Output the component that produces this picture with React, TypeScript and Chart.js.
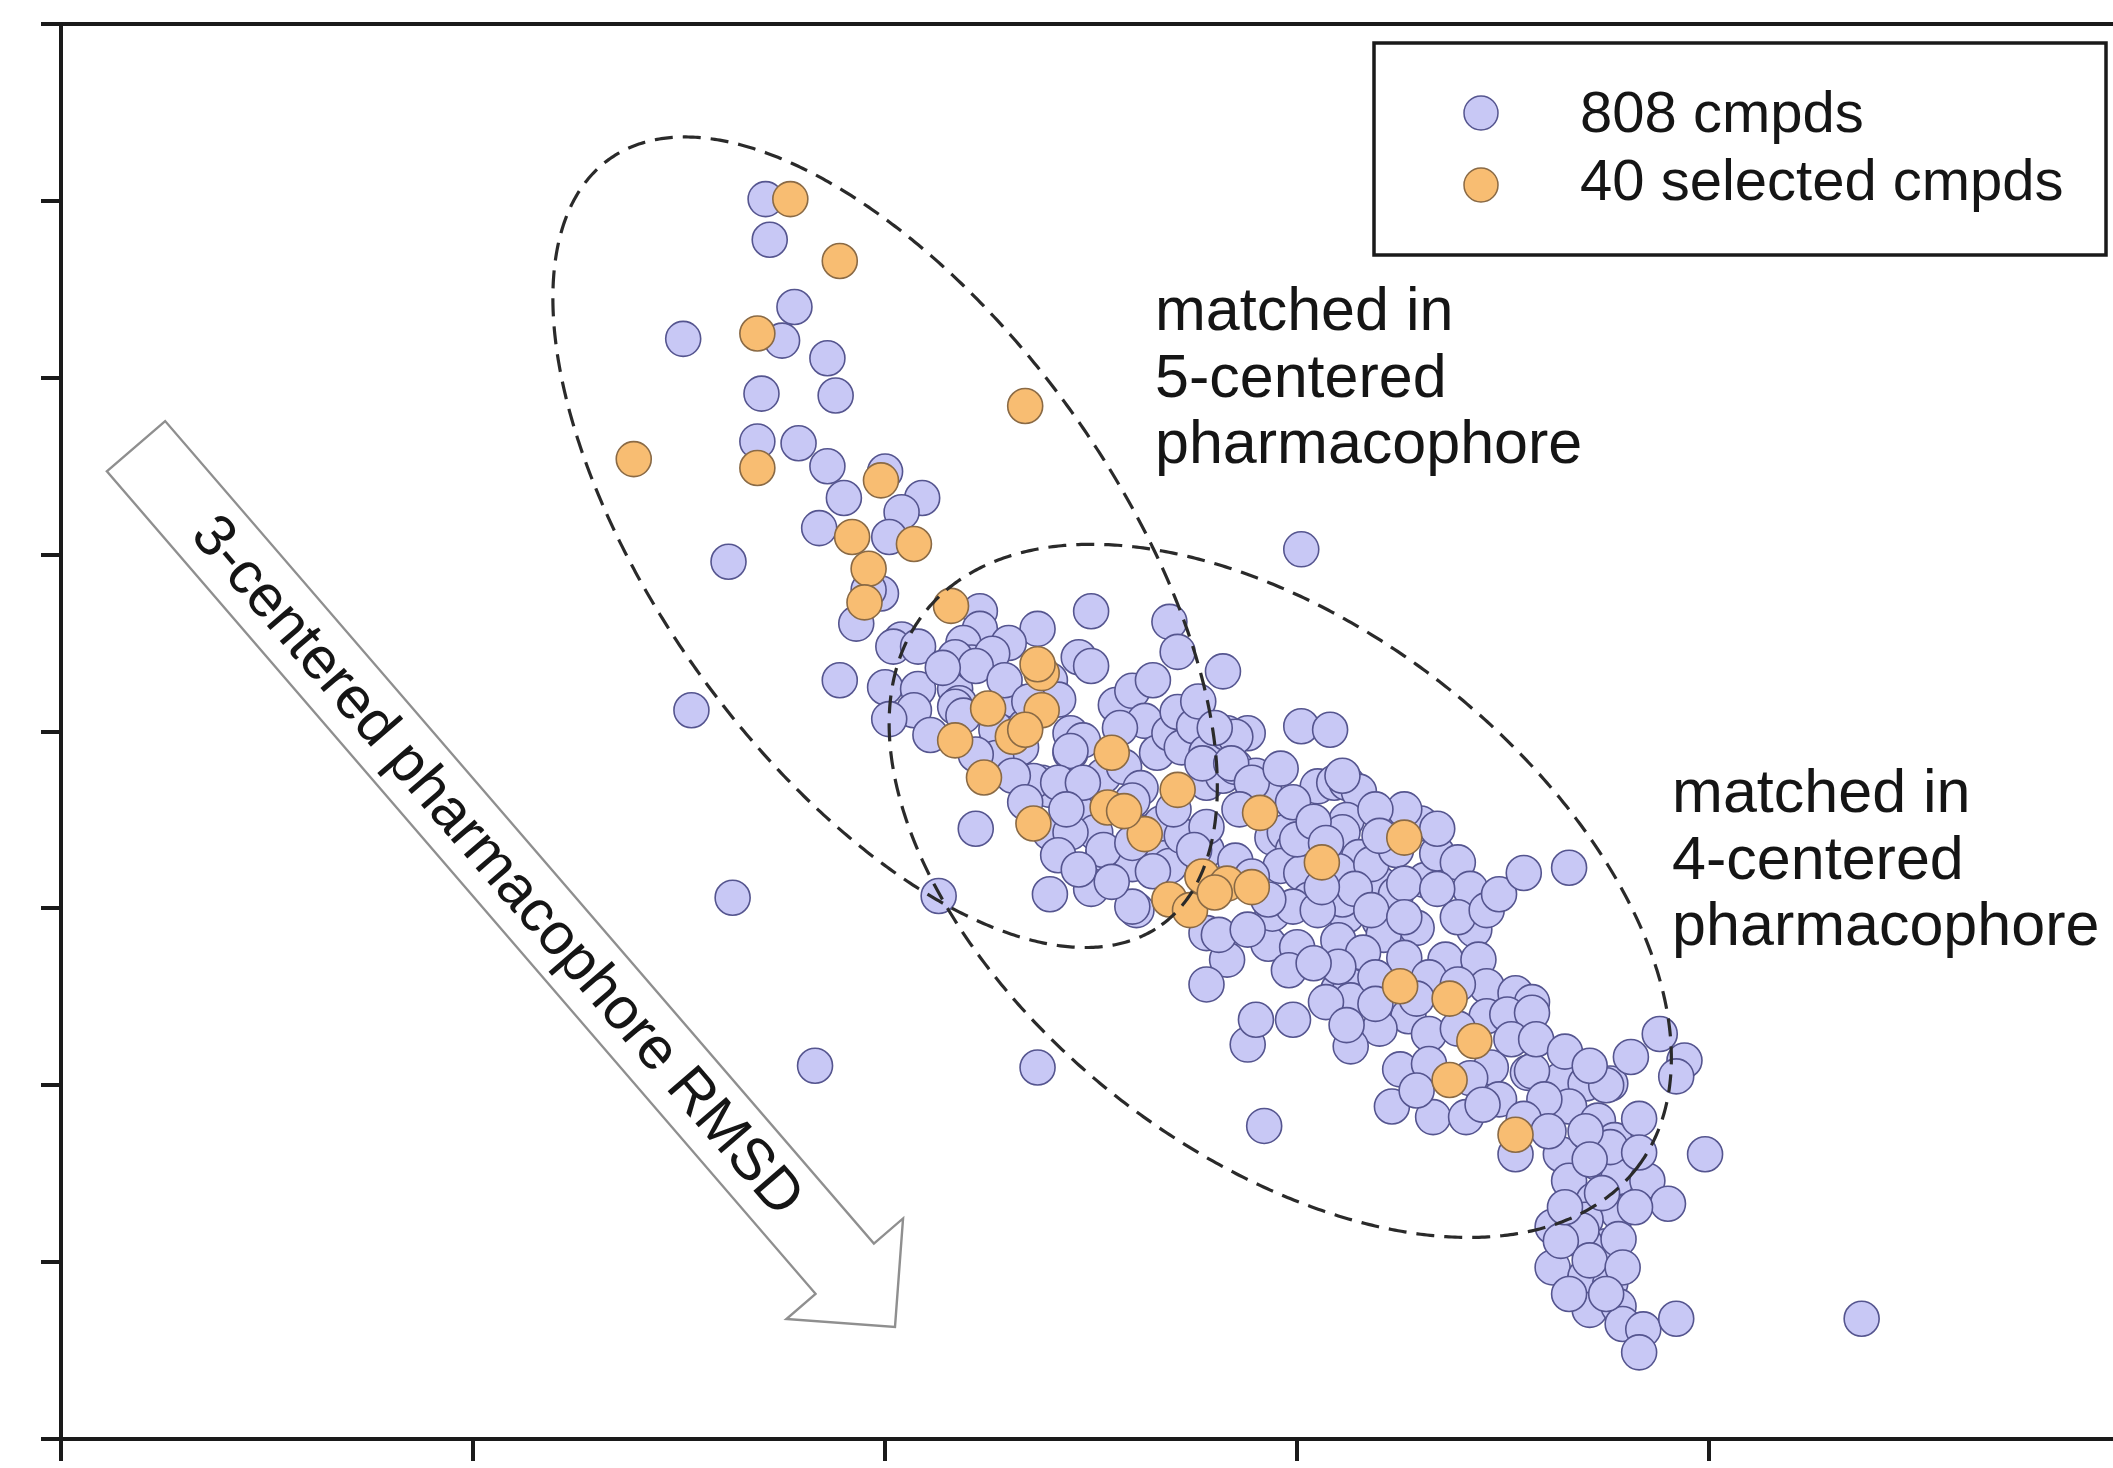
import React, { useEffect, useRef } from 'react';
import { Chart, registerables } from 'chart.js';

Chart.register(...registerables);

// ---------------- data (unlabelled axes, arbitrary units: x ticks 0..4, y ticks 0..8) ----------------
const seriesNames = ['808 cmpds', '40 selected cmpds'];

const xTickValues = [0, 1, 2, 3, 4];
const yTickValues = [0, 1, 2, 3, 4, 5, 6, 7, 8];
const xRange = [0, 4.98];
const yRange = [0, 8];

const allCmpds: number[][] = [
  // upper (5-centered) region
  [1.71, 7.01], [1.72, 6.78], [1.78, 6.40], [1.75, 6.21], [1.51, 6.22], [1.86, 6.11], [1.70, 5.91], [1.88, 5.90],
  [1.69, 5.64], [1.79, 5.63], [1.86, 5.50], [2.00, 5.47], [1.90, 5.32], [2.09, 5.32], [2.04, 5.24], [1.84, 5.15],
  [2.01, 5.10], [1.62, 4.96], [1.99, 4.78], [1.93, 4.61], [2.23, 4.68], [2.23, 4.58], [2.37, 4.58], [2.04, 4.52],
  [2.02, 4.48], [2.08, 4.48], [2.19, 4.50], [2.30, 4.50], [1.89, 4.29], [1.53, 4.12], [1.63, 3.06], [1.83, 2.11],
  [2.37, 2.10], [2.13, 3.07], [2.40, 3.08], [2.22, 3.45], [3.01, 5.03],
  [2.00, 4.25], [2.08, 4.24], [2.07, 4.12], [2.01, 4.07], [2.17, 4.24], [2.21, 4.39], [2.26, 4.44], [2.18, 4.16],
  [2.31, 4.18], [2.26, 3.90], [2.33, 3.91], [2.38, 3.71],
  // central dense region
  [1.96, 4.80], [2.50, 4.68], [2.69, 4.62], [2.71, 4.45], [2.82, 4.34], [2.47, 4.42], [2.50, 4.37], [2.17, 4.42],
  [2.22, 4.37], [2.17, 4.14], [2.19, 4.09], [2.27, 4.01], [2.34, 4.03], [2.40, 4.29], [2.42, 4.18], [2.27, 3.85],
  [2.40, 3.67], [2.40, 3.43], [2.36, 3.72], [2.45, 3.99], [2.45, 3.88], [2.48, 3.95], [2.49, 3.67], [2.53, 3.75],
  [2.47, 3.54], [2.51, 3.43], [2.53, 3.31], [2.56, 4.15], [2.60, 4.23], [2.63, 4.06], [2.66, 3.88], [2.69, 3.99],
  [2.71, 4.11], [2.72, 3.91], [2.75, 4.03], [2.58, 3.80], [2.62, 3.68], [2.60, 3.61], [2.78, 3.88], [2.78, 3.71],
  [2.82, 3.75], [2.83, 3.99], [2.88, 3.99], [2.85, 3.80], [2.90, 3.75], [2.92, 3.67], [2.64, 3.43], [2.66, 3.33],
  [2.69, 3.24], [2.60, 3.25], [2.61, 2.99], [2.78, 3.33], [2.85, 3.27], [2.94, 3.40], [2.97, 3.43], [2.99, 3.33],
  [2.96, 3.24], [3.01, 3.20], [3.01, 4.03], [3.08, 4.01], [3.05, 3.69], [3.09, 3.71], [3.12, 3.71], [3.15, 3.66],
  [3.12, 3.50], [3.11, 3.43], [3.26, 3.52], [3.30, 3.48], [3.03, 3.05], [2.93, 2.80], [3.00, 2.78], [3.08, 3.05],
  [3.12, 2.96], [3.17, 3.05], [3.20, 2.93], [3.24, 2.89], [3.29, 2.89], [3.15, 3.29], [3.20, 3.14], [3.24, 3.08],
  [3.31, 3.16], [3.34, 3.31], [2.78, 2.86], [2.83, 2.71], [2.78, 2.57], [3.10, 2.54], [3.13, 2.56], [2.94, 2.97],
  [2.99, 3.01], [2.60, 3.01],
  [2.85, 3.97], [2.45, 3.89], [2.42, 3.71], [2.48, 3.71], [2.77, 3.82], [2.84, 3.82], [2.89, 3.71], [3.11, 3.75],
  [3.26, 3.56], [3.00, 3.39], [2.45, 3.43], [2.53, 3.33], [2.60, 3.37], [2.67, 3.48], [2.72, 3.41], [2.78, 3.46],
  [2.65, 3.21], [2.50, 3.11], [2.81, 2.85], [2.93, 3.05], [3.10, 3.21], [3.18, 3.25], [3.24, 3.33], [3.11, 3.05],
  [3.26, 3.14], [3.05, 2.99], [3.21, 2.85],
  [2.14, 4.36], [2.29, 4.29], [2.35, 4.17], [2.11, 3.98], [2.22, 3.87], [2.31, 3.75], [2.34, 3.60], [2.44, 3.56],
  [2.42, 3.30], [2.47, 3.22], [2.55, 3.15], [2.57, 4.02], [2.65, 4.29], [2.76, 4.17], [2.80, 4.02], [2.70, 3.56],
  [2.75, 3.33], [2.86, 3.56], [2.96, 3.79], [2.99, 3.60], [3.04, 3.49], [3.07, 3.37], [3.19, 3.56], [3.20, 3.41],
  [3.34, 3.45], [3.39, 3.26], [3.42, 3.11], [3.43, 2.88], [2.89, 3.18], [2.88, 2.88],
  // lower (4-centered) region and tail
  [3.34, 3.11], [3.14, 3.11], [3.06, 3.12], [3.18, 2.99], [3.26, 2.95], [3.39, 2.95], [3.46, 2.99], [3.49, 3.08],
  [3.55, 3.20], [3.66, 3.23], [3.10, 2.82], [3.16, 2.75], [3.26, 2.72], [3.36, 2.71], [3.44, 2.71], [3.10, 2.67],
  [3.46, 2.56], [3.53, 2.52], [3.57, 2.47], [3.13, 2.48], [3.07, 2.47], [3.27, 2.39], [3.20, 2.32], [3.32, 2.29],
  [3.13, 2.22], [3.46, 2.39], [3.51, 2.40], [3.25, 2.09], [3.47, 2.10], [3.56, 2.07], [3.64, 2.03], [3.70, 2.01],
  [3.76, 2.01], [3.23, 1.88], [3.33, 1.82], [3.41, 1.82], [3.49, 1.92], [3.66, 1.88], [3.73, 1.80], [3.53, 1.61],
  [3.64, 1.61], [3.73, 1.56], [3.77, 1.69], [3.66, 1.46], [3.78, 1.48], [3.85, 1.46], [3.90, 1.33], [3.72, 1.35],
  [3.78, 1.28], [3.70, 1.24], [3.62, 1.20], [3.75, 1.09], [3.70, 1.10], [3.62, 0.97], [3.70, 0.92], [3.76, 0.88],
  [3.88, 2.29], [3.94, 2.14], [3.92, 2.05], [3.81, 2.16], [3.99, 1.61],
  [3.57, 2.41], [3.57, 2.08], [3.75, 2.00], [3.76, 1.65], [3.82, 1.31], [3.69, 1.18], [3.64, 1.12], [3.78, 1.13],
  [3.71, 0.73], [3.78, 0.75], [3.79, 0.65], [3.84, 0.62], [3.92, 0.68], [3.83, 0.49], [4.37, 0.68],
  [2.92, 1.77], [2.88, 2.23], [2.90, 2.37], [2.99, 2.37],
  [2.98, 2.65], [3.04, 2.69], [3.19, 2.61], [3.32, 2.61], [3.39, 2.57], [3.29, 2.49], [3.19, 2.46], [3.39, 2.32],
  [3.52, 2.26], [3.58, 2.26], [3.65, 2.19], [3.71, 2.11], [3.60, 1.92], [3.55, 1.81], [3.61, 1.74], [3.70, 1.74],
  [3.83, 1.81], [3.83, 1.62], [3.71, 1.58], [3.74, 1.39], [3.65, 1.31], [3.71, 1.01], [3.79, 0.97], [3.75, 0.82],
  [3.66, 0.82], [3.12, 2.34], [3.32, 2.12], [3.42, 2.04], [3.45, 1.89], [3.29, 1.97],
];

const selectedCmpds: number[][] = [
  [1.77, 7.01], [1.89, 6.66], [1.69, 6.25], [2.34, 5.84], [1.39, 5.54], [1.69, 5.49], [1.99, 5.42], [1.92, 5.10],
  [2.07, 5.06], [1.96, 4.92], [1.95, 4.73], [2.16, 4.71], [2.38, 4.33], [2.38, 4.12], [2.25, 4.13], [2.17, 3.95],
  [2.31, 3.97], [2.55, 3.88], [2.24, 3.74], [2.54, 3.57], [2.71, 3.67], [2.91, 3.54], [2.36, 3.48], [2.63, 3.42],
  [3.06, 3.26], [3.26, 3.40], [2.77, 3.18], [2.83, 3.14], [2.89, 3.12], [2.69, 3.05], [2.74, 2.99], [3.25, 2.56],
  [3.37, 2.49], [3.43, 2.25], [3.37, 2.03], [3.53, 1.72], [2.58, 3.55], [2.37, 4.38], [2.34, 4.01], [2.80, 3.09],
];

// annotation anchors (data units)
const ellipse5 = { c: [2.0, 5.07], a: [2.671, 2.907], b: [2.447, 5.826] };
const ellipse4 = { c: [2.959, 3.099], a: [3.823, 1.528], b: [3.352, 4.27] };
const arrowFrom = [0.182, 5.613];
const arrowTo = [2.024, 0.633];
const arrowText = '3-centered pharmacophore RMSD';
const label5Lines = ['matched in', '5-centered', 'pharmacophore'];
const label5Anchor = [2.655, 6.269];
const label4Lines = ['matched in', '4-centered', 'pharmacophore'];
const label4Anchor = [3.91, 3.544];

// ---------------- styles ----------------
const AXIS = '#1a1a1a';
const PURPLE_FILL = '#c8c8f5';
const PURPLE_EDGE = '#55558f';
const ORANGE_FILL = '#f8bd72';
const ORANGE_EDGE = '#8a6a45';
const FONT = '"Liberation Sans", Arial, Helvetica, sans-serif';
const TEXT = '#151515';

const overlayPlugin = {
  id: 'overlay',
  beforeDatasetsDraw(chart: any) {
    const { ctx, scales } = chart;
    const px = (p: number[]) => ({ x: scales.x.getPixelForValue(p[0]), y: scales.y.getPixelForValue(p[1]) });
    const S = px(arrowFrom);
    const T = px(arrowTo);
    const dx = T.x - S.x, dy = T.y - S.y;
    const len = Math.hypot(dx, dy);
    const u = { x: dx / len, y: dy / len };
    const n = { x: -u.y, y: u.x };
    const w = 38.5, head = 77, hw = 77;
    const B = { x: T.x - head * u.x, y: T.y - head * u.y };
    ctx.save();
    ctx.beginPath();
    const pts = [
      [S.x + w * n.x, S.y + w * n.y],
      [B.x + w * n.x, B.y + w * n.y],
      [B.x + hw * n.x, B.y + hw * n.y],
      [T.x, T.y],
      [B.x - hw * n.x, B.y - hw * n.y],
      [B.x - w * n.x, B.y - w * n.y],
      [S.x - w * n.x, S.y - w * n.y],
    ];
    pts.forEach((p, i) => (i === 0 ? ctx.moveTo(p[0], p[1]) : ctx.lineTo(p[0], p[1])));
    ctx.closePath();
    ctx.fillStyle = '#ffffff';
    ctx.fill();
    ctx.strokeStyle = '#8f8f8f';
    ctx.lineWidth = 2.4;
    ctx.stroke();
    // text along arrow
    const s = 0.51;
    const cx = S.x + s * (B.x - S.x), cy = S.y + s * (B.y - S.y);
    ctx.translate(cx, cy);
    ctx.rotate(Math.atan2(u.y, u.x));
    ctx.font = `59px ${FONT}`;
    ctx.fillStyle = TEXT;
    ctx.textAlign = 'center';
    ctx.textBaseline = 'middle';
    ctx.fillText(arrowText, 0, 2);
    ctx.restore();
  },
  afterDatasetsDraw(chart: any) {
    const { ctx, scales, chartArea, data } = chart;
    const px = (p: number[]) => ({ x: scales.x.getPixelForValue(p[0]), y: scales.y.getPixelForValue(p[1]) });
    ctx.save();
    // dashed ellipses
    [ellipse5, ellipse4].forEach((e) => {
      const C = px(e.c), A = px(e.a), Bp = px(e.b);
      const ux = A.x - C.x, uy = A.y - C.y, vx = Bp.x - C.x, vy = Bp.y - C.y;
      ctx.beginPath();
      for (let i = 0; i <= 720; i++) {
        const t = (i / 720) * Math.PI * 2;
        const x = C.x + ux * Math.cos(t) + vx * Math.sin(t);
        const y = C.y + uy * Math.cos(t) + vy * Math.sin(t);
        if (i === 0) ctx.moveTo(x, y); else ctx.lineTo(x, y);
      }
      ctx.setLineDash([18, 10]);
      ctx.strokeStyle = '#2a2a2a';
      ctx.lineWidth = 3.2;
      ctx.stroke();
    });
    ctx.setLineDash([]);
    // text labels
    ctx.font = `61px ${FONT}`;
    ctx.fillStyle = TEXT;
    ctx.textAlign = 'left';
    ctx.textBaseline = 'alphabetic';
    const lineGap = 66.5;
    [[label5Lines, label5Anchor], [label4Lines, label4Anchor]].forEach(([lines, anchor]: any) => {
      const p = px(anchor);
      lines.forEach((line: string, i: number) => ctx.fillText(line, p.x, p.y + i * lineGap));
    });
    // legend box
    const bw = 732, bh = 212;
    const bx = chartArea.right - 7 - bw, by = chartArea.top + 19;
    ctx.fillStyle = '#ffffff';
    ctx.fillRect(bx, by, bw, bh);
    ctx.strokeStyle = AXIS;
    ctx.lineWidth = 3.5;
    ctx.strokeRect(bx, by, bw, bh);
    data.datasets.forEach((ds: any, i: number) => {
      const my = by + 70 + i * 72;
      ctx.beginPath();
      ctx.arc(bx + 107, my, 17, 0, Math.PI * 2);
      ctx.fillStyle = ds.backgroundColor;
      ctx.fill();
      ctx.lineWidth = 1.5;
      ctx.strokeStyle = ds.borderColor;
      ctx.stroke();
      ctx.fillStyle = TEXT;
      ctx.font = `58px ${FONT}`;
      ctx.fillText(ds.label, bx + 206, by + 89 + i * 68);
    });
    ctx.restore();
  },
};

export default function App() {
  const ref = useRef<HTMLCanvasElement>(null);
  useEffect(() => {
    const toPts = (arr: number[][]) => arr.map(([x, y]) => ({ x, y }));
    const chart = new Chart(ref.current as HTMLCanvasElement, {
      type: 'scatter',
      data: {
        datasets: [
          {
            label: seriesNames[0],
            data: toPts(allCmpds),
            backgroundColor: PURPLE_FILL,
            borderColor: PURPLE_EDGE,
            pointRadius: 17.5,
            pointBorderWidth: 1.6,
            order: 2,
          },
          {
            label: seriesNames[1],
            data: toPts(selectedCmpds),
            backgroundColor: ORANGE_FILL,
            borderColor: ORANGE_EDGE,
            pointRadius: 17.5,
            pointBorderWidth: 1.6,
            order: 1,
          },
        ],
      },
      options: {
        responsive: false,
        animation: false,
        events: [],
        devicePixelRatio: 1,
        layout: { autoPadding: false, padding: { left: 41, right: 0, top: 24, bottom: 7 } },
        plugins: { legend: { display: false }, tooltip: { enabled: false } },
        scales: {
          x: {
            type: 'linear',
            position: 'bottom',
            min: xRange[0],
            max: xRange[1],
            afterBuildTicks: (axis: any) => { axis.ticks = xTickValues.map((v) => ({ value: v })); },
            ticks: { display: false },
            grid: { drawOnChartArea: false, drawTicks: true, tickLength: 22, color: AXIS, lineWidth: 4 },
            border: { display: true, color: AXIS, width: 4 },
          },
          xTop: {
            type: 'linear',
            position: 'top',
            min: 0,
            max: 1,
            ticks: { display: false },
            grid: { display: false, drawTicks: false, drawOnChartArea: false },
            border: { display: true, color: AXIS, width: 4 },
          },
          y: {
            type: 'linear',
            min: yRange[0],
            max: yRange[1],
            afterBuildTicks: (axis: any) => { axis.ticks = yTickValues.map((v) => ({ value: v })); },
            ticks: { display: false },
            grid: { drawOnChartArea: false, drawTicks: true, tickLength: 20, color: AXIS, lineWidth: 4 },
            border: { display: true, color: AXIS, width: 4 },
          },
        },
      } as any,
      plugins: [overlayPlugin],
    });
    return () => chart.destroy();
  }, []);
  return (
    <div style={{ position: 'absolute', left: 0, top: 0, width: 2113, height: 1468, background: '#ffffff' }}>
      <canvas ref={ref} width={2113} height={1468} style={{ display: 'block', width: 2113, height: 1468 }} />
    </div>
  );
}
